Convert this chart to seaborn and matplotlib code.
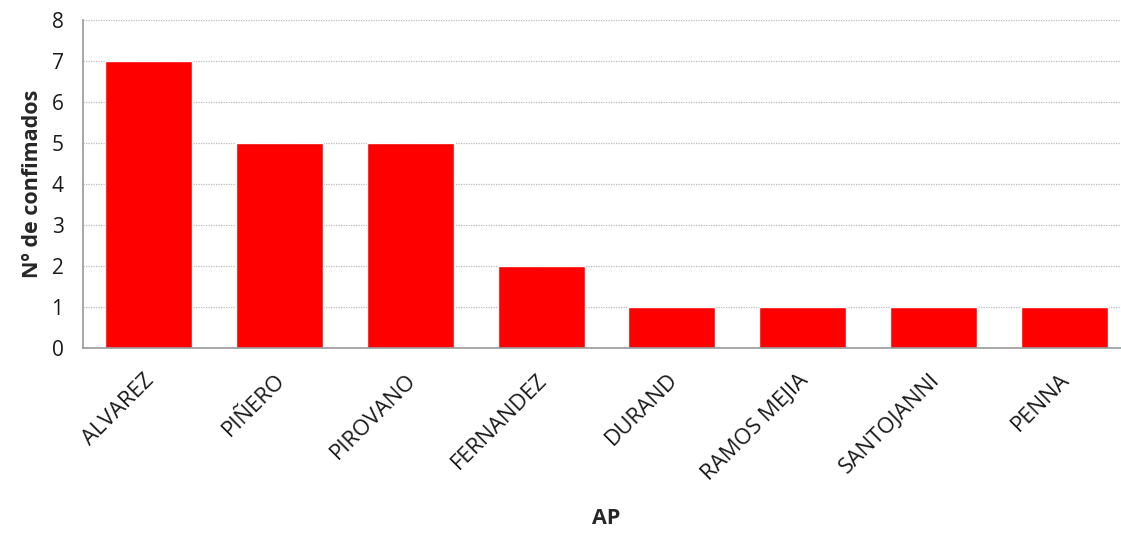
import numpy as np
import pandas as pd
import matplotlib
matplotlib.use("Agg")
import matplotlib.pyplot as plt
import matplotlib.transforms as mtransforms
import seaborn as sns
from matplotlib.ticker import FixedLocator

# ==========================================
# DATA
# ==========================================

hospitales = ["ALVAREZ", "PIÑERO", "PIROVANO", "FERNANDEZ", "DURAND",
              "RAMOS MEJIA", "SANTOJANNI", "PENNA"]
confirmados = [7, 5, 5, 2, 1, 1, 1, 1]

df = pd.DataFrame({"AP": hospitales, "confirmados": confirmados})

# ==========================================
# PLOT
# ==========================================

sns.set_style("white")
plt.rcParams["font.family"] = ["Open Sans", "DejaVu Sans"]

fig = plt.figure(figsize=(11.21, 5.35), dpi=100)
ax = fig.add_axes([83/1121, 1 - 348/535, (1130 - 83)/1121, (348 - 20)/535])

sns.barplot(data=df, x="AP", y="confirmados", color="#FF0000",
            saturation=1, width=0.665, ax=ax)

ax.set_ylim(0, 8)
ax.set_xlim(-0.5, len(hospitales) - 0.5)
ax.set_yticks(range(0, 9))
ax.yaxis.grid(True, color="#BBBBBB", linestyle=(0, (1, 1)), linewidth=0.9)
ax.set_axisbelow(True)

# category labels at centres, tick marks at boundaries
ax.tick_params(axis="x", which="major", length=0, pad=14)
ax.xaxis.set_minor_locator(FixedLocator(np.arange(-0.5, len(hospitales), 1)))
ax.tick_params(axis="x", which="minor", length=8, color="#999999", width=1.2)
ax.tick_params(axis="y", length=8, color="#999999", width=1.2, pad=6)
ax.tick_params(axis="y", labelsize=15, labelcolor="#1a1a1a")
ax.tick_params(axis="x", labelsize=16, labelcolor="#1a1a1a")
shift = mtransforms.ScaledTranslation(-5/100, -2/100, fig.dpi_scale_trans)
for lbl in ax.get_xticklabels():
    lbl.set_rotation(45)
    lbl.set_ha("right")
    lbl.set_rotation_mode("anchor")
    lbl.set_transform(lbl.get_transform() + shift)

for s in ["top", "right"]:
    ax.spines[s].set_visible(False)
for s in ["left", "bottom"]:
    ax.spines[s].set_color("#999999")
    ax.spines[s].set_linewidth(1.2)

ax.set_ylabel("Nº de confimados", fontsize=15.5, fontweight="bold", labelpad=6)
ax.set_xlabel("AP", fontsize=15.5, fontweight="bold", labelpad=17)

fig.savefig("out.png", dpi=100)
